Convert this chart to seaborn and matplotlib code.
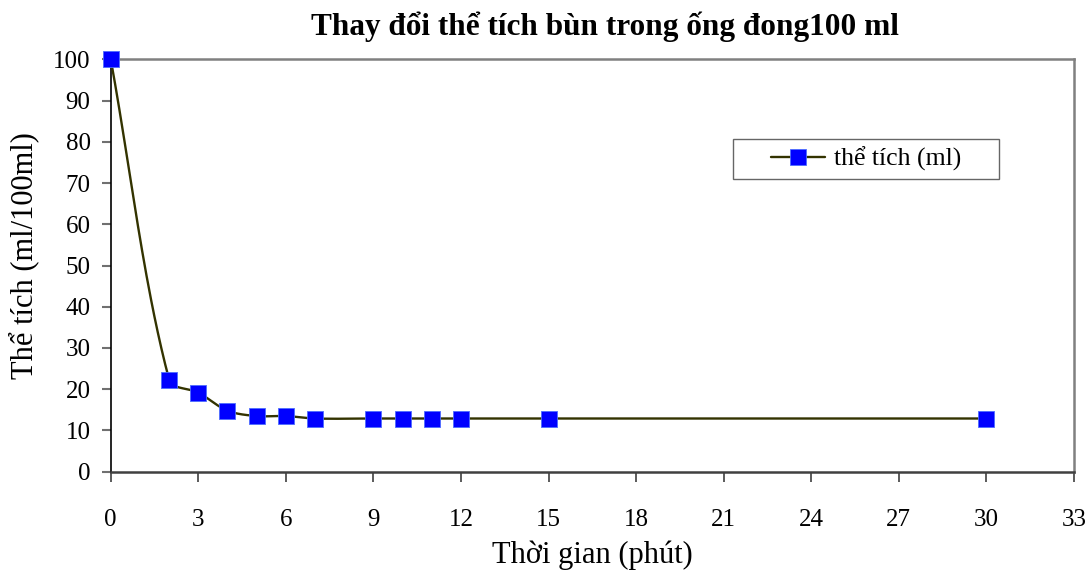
import numpy as np
import matplotlib
matplotlib.use("Agg")
import matplotlib.pyplot as plt
from matplotlib.lines import Line2D
import seaborn as sns

# Settling of sludge in a 100 ml cylinder
time_min = [0, 2, 3, 4, 5, 6, 7, 9, 10, 11, 12, 15, 30]
volume_ml = [100, 22.3, 19.2, 14.8, 13.5, 13.5, 12.9, 12.9, 12.9, 12.9, 12.9, 12.9, 12.9]
x_ticks = list(range(0, 34, 3))
y_ticks = list(range(0, 101, 10))

title_text = "Thay đổi thể tích bùn trong ống đong100 ml"
x_label = "Thời gian (phút)"
y_label = "Thể tích (ml/100ml)"
series_name = "thể tích (ml)"

sns.set_theme(style="white")
plt.rcParams["font.family"] = ["Liberation Serif", "DejaVu Serif"]
plt.rcParams["text.color"] = "black"
plt.rcParams["axes.labelcolor"] = "black"
plt.rcParams["xtick.labelcolor"] = "black"
plt.rcParams["ytick.labelcolor"] = "black"

LINE_COLOR = "#333300"
MARK_COLOR = "#0000FF"
MARK_EDGE = "#4d6dff"

fig = plt.figure(figsize=(10.91, 5.71), dpi=100)
ax = fig.add_axes([0.1015, 0.1739, 0.8829, 0.7222])
ax.set_xlim(0, 33)
ax.set_ylim(0, 100)


def smooth_path(ax, xs, ys, steps=40):
    """Cubic Bezier smoothing in screen space with chord-length scaled tangents."""
    pts = ax.transData.transform(np.column_stack([xs, ys]))
    n = len(pts)
    seg_len = np.linalg.norm(np.diff(pts, axis=0), axis=1)
    tangents = []
    for i in range(n):
        prev_p = pts[i - 1] if i > 0 else pts[i]
        next_p = pts[i + 1] if i < n - 1 else pts[i]
        tangents.append(next_p - prev_p)
    out = [pts[0]]
    t = np.linspace(0, 1, steps)[1:, None]
    for i in range(n - 1):
        p1, p2 = pts[i], pts[i + 1]
        l_prev = seg_len[i - 1] if i > 0 else 0.0
        l_cur = seg_len[i]
        l_next = seg_len[i + 1] if i + 1 < n - 1 else 0.0
        c1 = p1 + tangents[i] * (l_cur / (l_prev + l_cur)) / 3.0
        c2 = p2 - tangents[i + 1] * (l_cur / (l_cur + l_next)) / 3.0
        seg = ((1 - t) ** 3) * p1 + 3 * ((1 - t) ** 2) * t * c1 \
            + 3 * (1 - t) * t ** 2 * c2 + t ** 3 * p2
        out.extend(seg)
    out = np.array(out)
    data = ax.transData.inverted().transform(out)
    return data[:, 0], data[:, 1]


sx, sy = smooth_path(ax, time_min, volume_ml)
sns.lineplot(x=sx, y=sy, ax=ax, sort=False, estimator=None,
             color=LINE_COLOR, linewidth=1.7, zorder=3)
sns.scatterplot(x=time_min, y=volume_ml, ax=ax, marker="s", s=140,
                color=MARK_COLOR, edgecolor=MARK_EDGE, linewidth=0.6,
                zorder=4, clip_on=False)

ax.set_xlim(0, 33)
ax.set_ylim(0, 100)
ax.set_xticks(x_ticks)
ax.set_yticks(y_ticks)

for side in ("top", "right"):
    ax.spines[side].set_color("#808080")
    ax.spines[side].set_linewidth(1.8)
ax.spines["left"].set_color("#000000")
ax.spines["left"].set_linewidth(1.2)
ax.spines["bottom"].set_color("#404040")
ax.spines["bottom"].set_linewidth(1.8)

ax.tick_params(axis="y", direction="out", length=6.5, width=1.5, color="#707070",
               left=True, labelsize=18, pad=8, labelcolor="black")
ax.tick_params(axis="x", direction="out", length=7, width=1.2, color="#404040",
               bottom=True, labelsize=18, pad=20, labelcolor="black")

ax.set_xlabel(x_label, fontsize=22, labelpad=7, color="black")
ax.set_ylabel(y_label, fontsize=22, color="black")
ax.yaxis.set_label_coords(-0.0745, 0.525)
fig.text(0.5545, 0.953, title_text, ha="center", va="center",
         fontsize=22.5, fontweight="bold", color="black")

handle = Line2D([], [], color=LINE_COLOR, linewidth=1.7, marker="s",
                markersize=11, markerfacecolor=MARK_COLOR,
                markeredgecolor=MARK_EDGE, markeredgewidth=0.6)
leg = ax.legend([handle], [series_name], loc="center",
                bbox_to_anchor=(0.646, 0.705, 0.276, 0.1066), mode="expand",
                frameon=True, fancybox=False, fontsize=18.5,
                handlelength=2.1, handletextpad=0.35, borderpad=0.3,
                borderaxespad=0, alignment="center")
leg.get_frame().set_edgecolor("#404040")
leg.get_frame().set_linewidth(1.0)
for txt in leg.get_texts():
    txt.set_color("black")
# keep the entry at its natural width so it sits centred in the wide box
leg._legend_handle_box.mode = "fixed"

fig.savefig("out.png", dpi=100)
